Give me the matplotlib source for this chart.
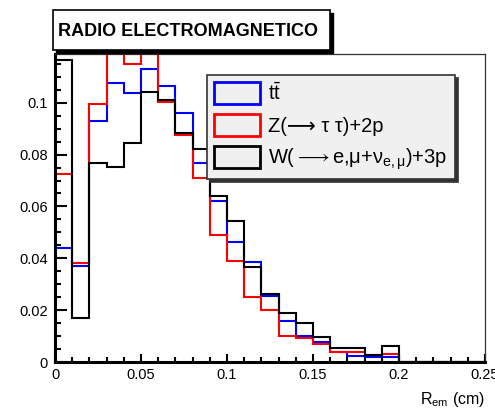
import numpy as np
import matplotlib
matplotlib.use("Agg")
import matplotlib.pyplot as plt
from matplotlib.patches import Patch, Rectangle
from matplotlib.ticker import MultipleLocator

plt.rcParams['font.family'] = ['Liberation Sans', 'DejaVu Sans']
plt.rcParams['mathtext.fontset'] = 'custom'
plt.rcParams['mathtext.rm'] = 'Liberation Sans'
plt.rcParams['mathtext.it'] = 'Liberation Sans:italic'
plt.rcParams['mathtext.fallback'] = 'stixsans'

# histogram: 25 bins of 0.01 cm between 0 and 0.25
bin_edges = np.linspace(0.0, 0.25, 26)

ttbar = [0.0438, 0.0370, 0.0930, 0.1075, 0.1036, 0.1130, 0.1063, 0.0959, 0.0766, 0.0620,
         0.0463, 0.0384, 0.0254, 0.0158, 0.0101, 0.0077, 0.0040, 0.0024, 0.0018, 0.0021,
         0, 0, 0, 0, 0]
z_tautau = [0.0725, 0.0380, 0.0995, 0.1250, 0.1150, 0.1220, 0.1004, 0.0875, 0.0711, 0.0489,
            0.0389, 0.0249, 0.0202, 0.0099, 0.0094, 0.0070, 0.0038, 0.0038, 0.0026, 0.0031,
            0, 0, 0, 0, 0]
w_lnu = [0.1165, 0.0170, 0.0768, 0.0753, 0.0843, 0.1043, 0.1010, 0.0884, 0.0821, 0.0642,
         0.0544, 0.0367, 0.0261, 0.0189, 0.0150, 0.0097, 0.0053, 0.0053, 0.0028, 0.0060,
         0, 0, 0, 0, 0]

labels = [r"t$\bar{\mathrm{t}}$",
          "Z(⟶ τ τ)+2p",
          r"W(${\longrightarrow}$e,μ+ν$_{\mathrm{e,\mu}}$)+3p"]
colors = ['#0000ff', '#ff0000', '#000000']

y_ticks = [0, 0.02, 0.04, 0.06, 0.08, 0.1]
y_tick_labels = ['0', '0.02', '0.04', '0.06', '0.08', '0.1']
x_ticks = [0, 0.05, 0.1, 0.15, 0.2, 0.25]
x_tick_labels = ['0', '0.05', '0.1', '0.15', '0.2', '0.25']

W, H = 495, 413
fig = plt.figure(figsize=(W / 100, H / 100), dpi=100)


def fx(px):
    return px / W


def fy(py):
    return 1 - py / H


ax = fig.add_axes([fx(55), fy(362), (485 - 55) / W, (362 - 54) / H])

for vals, col in zip([ttbar, z_tautau, w_lnu], colors):
    ax.stairs(vals, bin_edges, color=col, lw=1.5)

ax.set_xlim(0, 0.25)
ax.set_ylim(0, 0.1188)

for side in ['left', 'bottom']:
    ax.spines[side].set_linewidth(2.2)
for side in ['top', 'right']:
    ax.spines[side].set_linewidth(0.9)
    ax.spines[side].set_color('#333333')

ax.set_xticks(x_ticks)
ax.set_xticklabels(x_tick_labels)
ax.set_yticks(y_ticks)
ax.set_yticklabels(y_tick_labels)
ax.xaxis.set_minor_locator(MultipleLocator(0.01))
ax.yaxis.set_minor_locator(MultipleLocator(0.005))
ax.tick_params(axis='both', which='both', direction='in', labelsize=10.5, width=1.5)
ax.tick_params(axis='x', which='major', length=6, pad=4)
ax.tick_params(axis='x', which='minor', length=3.5)
ax.tick_params(axis='y', which='major', length=8.5, pad=5)
ax.tick_params(axis='y', which='minor', length=4.5)

ax.set_xlabel(r"R$_{\mathrm{em}}$ (cm)", loc='right', fontsize=11.5, labelpad=6)

handles = [Patch(facecolor='none', edgecolor=c, lw=2) for c in colors]
leg = fig.legend(handles, labels, loc='upper left',
                 bbox_to_anchor=(fx(207), fy(75)), bbox_transform=fig.transFigure,
                 borderaxespad=0, fontsize=14.5, handlelength=2.3, handleheight=1.3,
                 handletextpad=0.4, labelspacing=0.5, borderpad=0.35,
                 fancybox=False, framealpha=1, edgecolor='#333333',
                 shadow={'color': '#333333', 'alpha': 1})
leg.get_frame().set_facecolor('#f0f0f0')
leg.get_frame().set_linewidth(1.2)

# title box with drop shadow
fig.patches.append(Rectangle((fx(56), fy(53)), (330 - 53) / W, (50 - 10) / H,
                             transform=fig.transFigure, facecolor='black',
                             edgecolor='black', zorder=5))
fig.patches.append(Rectangle((fx(53), fy(50)), (330 - 53) / W, (50 - 10) / H,
                             transform=fig.transFigure, facecolor='white',
                             edgecolor='black', lw=1.2, zorder=6))
fig.text(fx(58), fy(31), "RADIO ELECTROMAGNETICO", fontsize=13,
         fontweight='bold', ha='left', va='center', zorder=7)

fig.savefig("out.png", dpi=100)
